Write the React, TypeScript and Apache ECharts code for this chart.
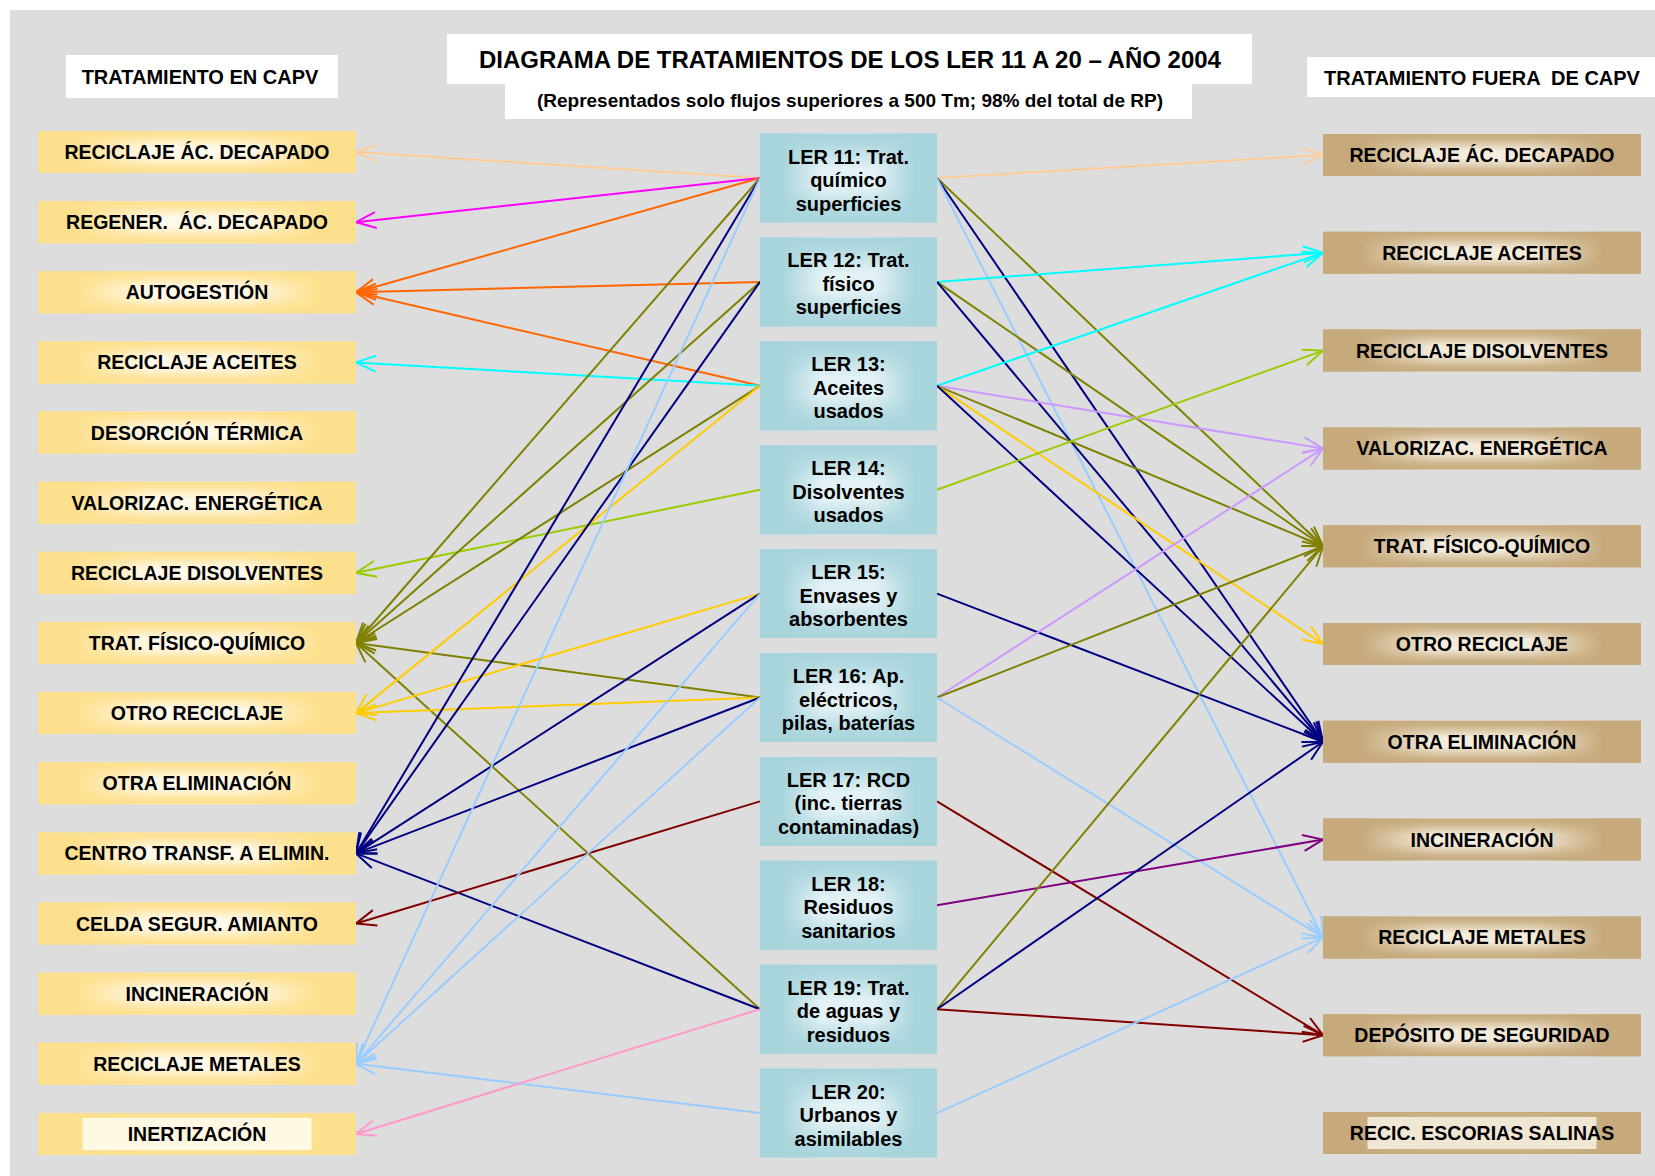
import React, { useEffect, useRef } from "react";
import * as echarts from "echarts";

// ---------------- DATA ----------------
const leftTreatments = [
  "RECICLAJE ÁC. DECAPADO",
  "REGENER.  ÁC. DECAPADO",
  "AUTOGESTIÓN",
  "RECICLAJE ACEITES",
  "DESORCIÓN TÉRMICA",
  "VALORIZAC. ENERGÉTICA",
  "RECICLAJE DISOLVENTES",
  "TRAT. FÍSICO-QUÍMICO",
  "OTRO RECICLAJE",
  "OTRA ELIMINACIÓN",
  "CENTRO TRANSF. A ELIMIN.",
  "CELDA SEGUR. AMIANTO",
  "INCINERACIÓN",
  "RECICLAJE METALES",
  "INERTIZACIÓN",
];

const lerCodes = [11, 12, 13, 14, 15, 16, 17, 18, 19, 20];
const lerLabels = [
  "LER 11: Trat.\nquímico\nsuperficies",
  "LER 12: Trat.\nfísico\nsuperficies",
  "LER 13:\nAceites\nusados",
  "LER 14:\nDisolventes\nusados",
  "LER 15:\nEnvases y\nabsorbentes",
  "LER 16: Ap.\neléctricos,\npilas, baterías",
  "LER 17: RCD\n(inc. tierras\ncontaminadas)",
  "LER 18:\nResiduos\nsanitarios",
  "LER 19: Trat.\nde aguas y\nresiduos",
  "LER 20:\nUrbanos y\nasimilables",
];

const rightTreatments = [
  "RECICLAJE ÁC. DECAPADO",
  "RECICLAJE ACEITES",
  "RECICLAJE DISOLVENTES",
  "VALORIZAC. ENERGÉTICA",
  "TRAT. FÍSICO-QUÍMICO",
  "OTRO RECICLAJE",
  "OTRA ELIMINACIÓN",
  "INCINERACIÓN",
  "RECICLAJE METALES",
  "DEPÓSITO DE SEGURIDAD",
  "RECIC. ESCORIAS SALINAS",
];

// flows: [LER code, treatment]
const leftFlows: [number, string][] = [
  [11, "RECICLAJE ÁC. DECAPADO"],
  [11, "REGENER.  ÁC. DECAPADO"],
  [11, "AUTOGESTIÓN"],
  [12, "AUTOGESTIÓN"],
  [13, "AUTOGESTIÓN"],
  [13, "RECICLAJE ACEITES"],
  [14, "RECICLAJE DISOLVENTES"],
  [11, "TRAT. FÍSICO-QUÍMICO"],
  [12, "TRAT. FÍSICO-QUÍMICO"],
  [13, "TRAT. FÍSICO-QUÍMICO"],
  [16, "TRAT. FÍSICO-QUÍMICO"],
  [19, "TRAT. FÍSICO-QUÍMICO"],
  [13, "OTRO RECICLAJE"],
  [15, "OTRO RECICLAJE"],
  [16, "OTRO RECICLAJE"],
  [11, "CENTRO TRANSF. A ELIMIN."],
  [12, "CENTRO TRANSF. A ELIMIN."],
  [15, "CENTRO TRANSF. A ELIMIN."],
  [16, "CENTRO TRANSF. A ELIMIN."],
  [19, "CENTRO TRANSF. A ELIMIN."],
  [17, "CELDA SEGUR. AMIANTO"],
  [11, "RECICLAJE METALES"],
  [15, "RECICLAJE METALES"],
  [16, "RECICLAJE METALES"],
  [20, "RECICLAJE METALES"],
  [19, "INERTIZACIÓN"],
];

const rightFlows: [number, string][] = [
  [11, "RECICLAJE ÁC. DECAPADO"],
  [11, "TRAT. FÍSICO-QUÍMICO"],
  [11, "OTRA ELIMINACIÓN"],
  [11, "RECICLAJE METALES"],
  [12, "RECICLAJE ACEITES"],
  [12, "TRAT. FÍSICO-QUÍMICO"],
  [12, "OTRA ELIMINACIÓN"],
  [13, "RECICLAJE ACEITES"],
  [13, "VALORIZAC. ENERGÉTICA"],
  [13, "TRAT. FÍSICO-QUÍMICO"],
  [13, "OTRO RECICLAJE"],
  [13, "OTRA ELIMINACIÓN"],
  [14, "RECICLAJE DISOLVENTES"],
  [15, "OTRA ELIMINACIÓN"],
  [16, "VALORIZAC. ENERGÉTICA"],
  [16, "TRAT. FÍSICO-QUÍMICO"],
  [16, "RECICLAJE METALES"],
  [17, "DEPÓSITO DE SEGURIDAD"],
  [18, "INCINERACIÓN"],
  [19, "TRAT. FÍSICO-QUÍMICO"],
  [19, "OTRA ELIMINACIÓN"],
  [19, "DEPÓSITO DE SEGURIDAD"],
  [20, "RECICLAJE METALES"],
];

const titleText = "DIAGRAMA DE TRATAMIENTOS DE LOS LER 11 A 20 – AÑO 2004";
const subtitleText = "(Representados solo flujos superiores a 500 Tm; 98% del total de RP)";
const leftHeader = "TRATAMIENTO EN CAPV";
const rightHeader = "TRATAMIENTO FUERA  DE CAPV";

// ---------------- STYLE / LAYOUT ----------------
const flowColors: Record<string, string> = {
  "RECICLAJE ÁC. DECAPADO": "#ffcc99",
  "REGENER.  ÁC. DECAPADO": "#ff00ff",
  "AUTOGESTIÓN": "#ff6600",
  "RECICLAJE ACEITES": "#00ffff",
  "RECICLAJE DISOLVENTES": "#99cc00",
  "TRAT. FÍSICO-QUÍMICO": "#808000",
  "OTRO RECICLAJE": "#ffcc00",
  "CENTRO TRANSF. A ELIMIN.": "#000080",
  "OTRA ELIMINACIÓN": "#000080",
  "CELDA SEGUR. AMIANTO": "#800000",
  "DEPÓSITO DE SEGURIDAD": "#800000",
  "RECICLAJE METALES": "#99ccff",
  "INERTIZACIÓN": "#ff99cc",
  "VALORIZAC. ENERGÉTICA": "#cc99ff",
  "INCINERACIÓN": "#800080",
};

const LAYOUT = {
  left: { x0: 38, x1: 356, y0: 152, step: 70.14, h: 42 },
  mid: { x0: 760, x1: 937, y0: 178, step: 103.9, h: 89 },
  right: { x0: 1323, x1: 1641, y0: 155, step: 97.8, h: 42 },
};

const PALETTES = {
  left: { edge: "#fde08e", light: "#fff9ea" },
  mid: { edge: "#a8d4dc", light: "#e3f2f5" },
  right: { edge: "#c6aa7c", light: "#f4ecdd" },
};

const innerPanelLabels = ["INERTIZACIÓN", "RECIC. ESCORIAS SALINAS"];
const innerPanelColor = { left: "#fff8e3", right: "#efe6d4" };

const FONT = '"Liberation Sans", Arial, Helvetica, sans-serif';
const AH_LEN = 20;
const AH_W = 8;

function hexToRgba(hex: string, a: number) {
  const n = parseInt(hex.slice(1), 16);
  return `rgba(${(n >> 16) & 255},${(n >> 8) & 255},${n & 255},${a})`;
}

function boxRenderer(col: "left" | "mid" | "right", labels: string[], fontSize: number, lineHeight: number) {
  const pal = PALETTES[col];
  return (params: any, api: any) => {
    const L = LAYOUT[col];
    const i = api.value(0);
    const cy = L.y0 + i * L.step;
    const p0 = api.coord([L.x0, cy - L.h / 2]);
    const p1 = api.coord([L.x1, cy + L.h / 2]);
    const w = p1[0] - p0[0];
    const h = p1[1] - p0[1];
    const shape = { x: p0[0], y: p0[1], width: w, height: h };
    const hGrad = new echarts.graphic.LinearGradient(0, 0, 1, 0, [
      { offset: 0, color: pal.edge },
      { offset: 0.12, color: pal.edge },
      { offset: 0.35, color: pal.light },
      { offset: 0.65, color: pal.light },
      { offset: 0.88, color: pal.edge },
      { offset: 1, color: pal.edge },
    ]);
    const vGrad = new echarts.graphic.LinearGradient(0, 0, 0, 1, [
      { offset: 0, color: hexToRgba(pal.edge, 1) },
      { offset: 0.12, color: hexToRgba(pal.edge, 0.85) },
      { offset: 0.4, color: hexToRgba(pal.edge, 0) },
      { offset: 0.6, color: hexToRgba(pal.edge, 0) },
      { offset: 0.88, color: hexToRgba(pal.edge, 0.85) },
      { offset: 1, color: hexToRgba(pal.edge, 1) },
    ]);
    const label = labels[params.dataIndex];
    const children: any[] = [
      { type: "rect", shape, style: { fill: hGrad } },
      { type: "rect", shape, style: { fill: vGrad } },
    ];
    if (col !== "mid" && innerPanelLabels.indexOf(label) >= 0) {
      const pw = 229;
      const ph = h - 10;
      children.push({
        type: "rect",
        shape: { x: p0[0] + w / 2 - pw / 2, y: p0[1] + 5, width: pw, height: ph },
        style: { fill: innerPanelColor[col] },
      });
    }
    children.push({
      type: "text",
      style: {
        text: label,
        x: p0[0] + w / 2,
        y: p0[1] + h / 2 + (col === "mid" ? 2 : 0),
        align: "center",
        verticalAlign: "middle",
        font: `bold ${fontSize}px ${FONT}`,
        lineHeight,
        fill: "#000000",
      },
    });
    return { type: "group", children };
  };
}

function flowRenderer(params: any, api: any) {
  const side = api.value(0);
  const li = api.value(1);
  const ti = api.value(2);
  const M = LAYOUT.mid;
  const T = side === 0 ? LAYOUT.left : LAYOUT.right;
  const sy = M.y0 + li * M.step;
  const sx = side === 0 ? M.x0 : M.x1;
  const tx = side === 0 ? T.x1 : T.x0;
  const ty = T.y0 + ti * T.step;
  const s = api.coord([sx, sy]);
  const t = api.coord([tx, ty]);
  const dx = t[0] - s[0];
  const dy = t[1] - s[1];
  const len = Math.hypot(dx, dy) || 1;
  const ux = dx / len;
  const uy = dy / len;
  const bx = t[0] - ux * AH_LEN;
  const by = t[1] - uy * AH_LEN;
  const w1 = [bx - uy * AH_W, by + ux * AH_W];
  const w2 = [bx + uy * AH_W, by - ux * AH_W];
  const color = api.visual("color");
  return {
    type: "group",
    children: [
      { type: "line", shape: { x1: s[0], y1: s[1], x2: t[0], y2: t[1] }, style: { stroke: color, lineWidth: 2 } },
      { type: "polyline", shape: { points: [w1, t, w2] }, style: { stroke: color, lineWidth: 2, fill: "none" } },
    ],
  };
}

function buildFlowData(flows: [number, string][], side: number, targets: string[]) {
  return flows.map(([code, target]) => ({
    value: [side, lerCodes.indexOf(code), targets.indexOf(target)],
    itemStyle: { color: flowColors[target] },
  }));
}

export default function App() {
  const ref = useRef<HTMLDivElement>(null);

  useEffect(() => {
    if (!ref.current) return;
    const chart = echarts.init(ref.current, undefined, { renderer: "svg" });
    const W = 1655;
    const H = 1176;

    const headerText = (text: string, x: number, y: number, size: number) => ({
      type: "text",
      z: 1,
      style: {
        text,
        x,
        y,
        align: "center",
        verticalAlign: "middle",
        font: `bold ${size}px ${FONT}`,
        fill: "#000000",
      },
    });

    chart.setOption({
      animation: false,
      backgroundColor: "#ffffff",
      grid: { left: 0, right: 0, top: 0, bottom: 0 },
      xAxis: { type: "value", min: 0, max: W, show: false },
      yAxis: { type: "value", min: 0, max: H, inverse: true, show: false },
      graphic: [
        { type: "rect", z: 0, shape: { x: 10, y: 10, width: W - 10, height: H - 10 }, style: { fill: "#dddddd" } },
        { type: "rect", z: 1, shape: { x: 66, y: 55, width: 272, height: 43 }, style: { fill: "#ffffff" } },
        { type: "rect", z: 1, shape: { x: 447, y: 34, width: 805, height: 50 }, style: { fill: "#ffffff" } },
        { type: "rect", z: 1, shape: { x: 505, y: 83, width: 687, height: 36 }, style: { fill: "#ffffff" } },
        { type: "rect", z: 1, shape: { x: 1307, y: 57, width: W - 1307, height: 40 }, style: { fill: "#ffffff" } },
        headerText(leftHeader, 200, 77, 20),
        headerText(titleText, 850, 59, 24),
        headerText(subtitleText, 850, 100, 19),
        headerText(rightHeader, 1482, 78, 20),
      ],
      series: [
        {
          type: "custom",
          name: "flujos CAPV",
          z: 2,
          renderItem: flowRenderer,
          data: buildFlowData(leftFlows, 0, leftTreatments),
        },
        {
          type: "custom",
          name: "flujos fuera CAPV",
          z: 2,
          renderItem: flowRenderer,
          data: buildFlowData(rightFlows, 1, rightTreatments),
        },
        {
          type: "custom",
          name: "tratamientos CAPV",
          z: 3,
          renderItem: boxRenderer("left", leftTreatments, 19.5, 22),
          data: leftTreatments.map((_, i) => [i, i]),
        },
        {
          type: "custom",
          name: "LER",
          z: 3,
          renderItem: boxRenderer("mid", lerLabels, 20, 23.5),
          data: lerLabels.map((_, i) => [i, i]),
        },
        {
          type: "custom",
          name: "tratamientos fuera CAPV",
          z: 3,
          renderItem: boxRenderer("right", rightTreatments, 19.5, 22),
          data: rightTreatments.map((_, i) => [i, i]),
        },
      ],
    });

    return () => chart.dispose();
  }, []);

  return (
    <div
      ref={ref}
      style={{ position: "absolute", left: 0, top: 0, width: 1655, height: 1176 }}
    />
  );
}
